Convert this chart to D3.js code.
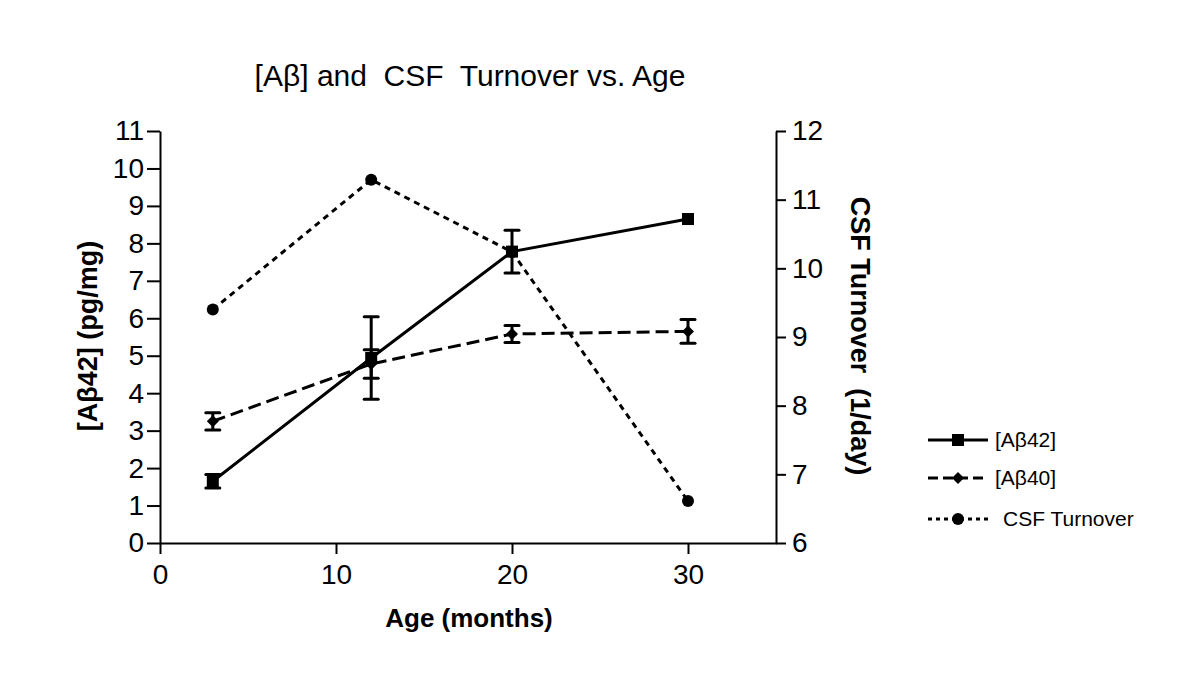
<!DOCTYPE html>
<html>
<head>
<meta charset="utf-8">
<script src="https://cdn.jsdelivr.net/npm/d3@7"></script>
<style>
  body { margin: 0; background: #fff; }
  svg { display: block; font-family: "Liberation Sans", Arial, sans-serif; }
</style>
</head>
<body>
<svg id="chart" width="1200" height="686"></svg>
<script>
// Data
const ages = [3, 12, 20, 30];
const ab42 = [1.65, 4.94, 7.78, 8.65];
const ab42Err = [0.18, 1.1, 0.57, 0];
const ab40 = [3.25, 4.78, 5.58, 5.65];
const ab40Err = [0.23, 0.38, 0.23, 0.32];
const csf = [9.4, 11.29, 10.24, 6.61];

const xTicks = [0, 10, 20, 30];
const yLeftTicks = d3.range(0, 12);
const yRightTicks = d3.range(6, 13);

const svg = d3.select("#chart");
const plotLeft = 160, plotRight = 776, plotTop = 131, plotBottom = 543;

const x = d3.scaleLinear().domain([0, 35]).range([plotLeft, plotRight]);
const yL = d3.scaleLinear().domain([0, 11]).range([plotBottom, plotTop]);
const yR = d3.scaleLinear().domain([6, 12]).range([plotBottom, plotTop]);

// Axes
function styleAxis(g) {
    g.selectAll("path, line").attr("stroke", "#000").attr("stroke-width", 2);
    g.selectAll("text").attr("font-size", 28).attr("fill", "#000");
}

svg.append("g")
    .attr("transform", `translate(0,${plotBottom})`)
    .call(d3.axisBottom(x).tickValues(xTicks).tickFormat(d3.format("d"))
        .tickSize(11).tickSizeOuter(0).tickPadding(10))
    .call(styleAxis);

svg.append("g")
    .attr("transform", `translate(${plotLeft},0)`)
    .call(d3.axisLeft(yL).tickValues(yLeftTicks).tickFormat(d3.format("d"))
        .tickSize(13).tickSizeOuter(0).tickPadding(3))
    .call(styleAxis);

svg.append("g")
    .attr("transform", `translate(${plotRight},0)`)
    .call(d3.axisRight(yR).tickValues(yRightTicks).tickFormat(d3.format("d"))
        .tickSize(10).tickSizeOuter(0).tickPadding(6))
    .call(styleAxis);

// Titles
svg.append("text")
    .attr("x", 470).attr("y", 86)
    .attr("text-anchor", "middle")
    .attr("font-size", 30)
    .attr("xml:space", "preserve")
    .text("[Aβ] and  CSF  Turnover vs. Age");

svg.append("text")
    .attr("x", 469).attr("y", 627)
    .attr("text-anchor", "middle")
    .attr("font-size", 26).attr("font-weight", "bold")
    .text("Age (months)");

svg.append("text")
    .attr("transform", "translate(97,336) rotate(-90)")
    .attr("text-anchor", "middle")
    .attr("font-size", 27).attr("font-weight", "bold")
    .text("[Aβ42] (pg/mg)");

svg.append("text")
    .attr("transform", "translate(851,336) rotate(90)")
    .attr("text-anchor", "middle")
    .attr("font-size", 27).attr("font-weight", "bold")
    .attr("xml:space", "preserve")
    .text("CSF Turnover  (1/day)");

// Series
const series = [
    { name: "[Aβ42]", vals: ab42, err: ab42Err, y: yL, dash: null, legendDash: null, marker: "square" },
    { name: "[Aβ40]", vals: ab40, err: ab40Err, y: yL, dash: "13,6", legendDash: "10,5", marker: "diamond" },
    { name: "CSF Turnover", vals: csf, err: null, y: yR, dash: "6,5", legendDash: "4,4", marker: "circle" }
];

const plot = svg.append("g");

function drawMarker(g, type, cx, cy) {
    if (type === "square") {
        g.append("rect").attr("x", cx - 6).attr("y", cy - 6).attr("width", 12).attr("height", 12).attr("fill", "#000");
    } else if (type === "diamond") {
        const s = 6;
        g.append("path").attr("d", `M${cx},${cy - s}L${cx + s},${cy}L${cx},${cy + s}L${cx - s},${cy}Z`).attr("fill", "#000");
    } else {
        g.append("circle").attr("cx", cx).attr("cy", cy).attr("r", 6).attr("fill", "#000");
    }
}

// draw CSF first so the Aβ markers sit on top
series.slice().reverse().forEach(s => {
    const pts = ages.map((a, i) => [a, s.vals[i]]);
    const line = d3.line().x(d => x(d[0])).y(d => s.y(d[1]));
    plot.append("path")
        .attr("d", line(pts))
        .attr("fill", "none")
        .attr("stroke", "#000")
        .attr("stroke-width", 3)
        .attr("stroke-dasharray", s.dash);

    if (s.err) {
        ages.forEach((a, i) => {
            const e = s.err[i];
            if (!e) return;
            const cx = x(a), y1 = s.y(s.vals[i] + e), y2 = s.y(s.vals[i] - e);
            plot.append("line").attr("x1", cx).attr("x2", cx).attr("y1", y1).attr("y2", y2)
                .attr("stroke", "#000").attr("stroke-width", 3);
            [y1, y2].forEach(yy => plot.append("line")
                .attr("x1", cx - 7).attr("x2", cx + 7).attr("y1", yy).attr("y2", yy)
                .attr("stroke", "#000").attr("stroke-width", 3).attr("stroke-linecap", "round"));
        });
    }
    ages.forEach((a, i) => drawMarker(plot, s.marker, x(a), s.y(s.vals[i])));
});

// Legend
const legend = svg.append("g");
const legendY = [440, 478, 519];
const legendTextX = [995, 995, 1003];
series.forEach((s, i) => {
    const ly = legendY[i];
    legend.append("line")
        .attr("x1", 928).attr("x2", 988).attr("y1", ly).attr("y2", ly)
        .attr("stroke", "#000").attr("stroke-width", 3)
        .attr("stroke-dasharray", s.legendDash);
    drawMarker(legend, s.marker, 958, ly);
    legend.append("text")
        .attr("x", legendTextX[i]).attr("y", ly + 7)
        .attr("font-size", 21)
        .text(s.name);
});
</script>
</body>
</html>
